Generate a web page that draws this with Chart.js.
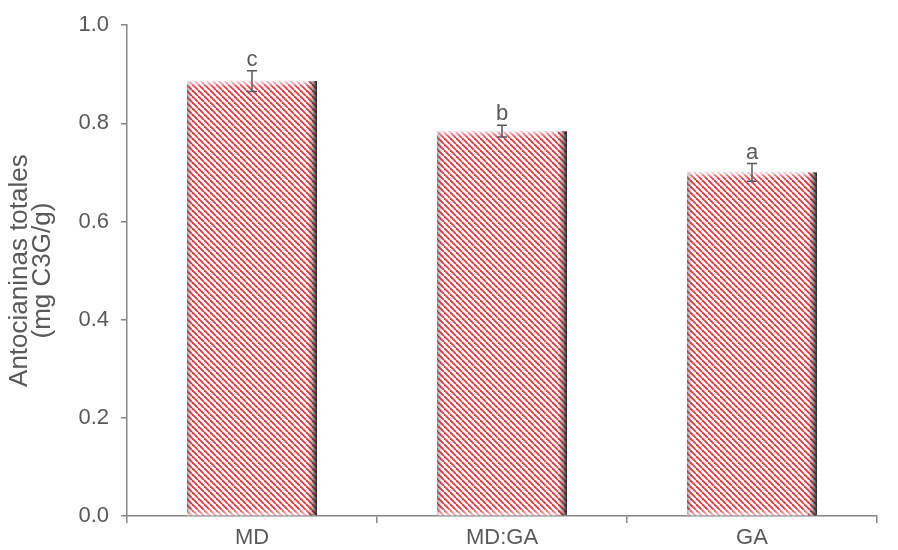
<!DOCTYPE html>
<html>
<head>
<meta charset="utf-8">
<script src="https://cdn.jsdelivr.net/npm/chart.js@4"></script>
<style>
  html, body { margin: 0; padding: 0; background: #fff; }
  #wrap { width: 898px; height: 550px; }
</style>
</head>
<body>
<div id="wrap"><canvas id="chart" width="898" height="550"></canvas></div>
<script>
// data
const categories = ['MD', 'MD:GA', 'GA'];
const values = [0.886, 0.784, 0.700];
const errors = [0.021, 0.012, 0.018];
const letters = ['c', 'b', 'a'];
const yTicks = [0, 0.2, 0.4, 0.6, 0.8, 1.0];

const textColor = '#595959';
const axisColor = '#868686';
const fontFamily = '"Liberation Sans", Arial, sans-serif';

// diagonal red stripe pattern
function makePattern(ctx) {
    const c = document.createElement('canvas');
    c.width = 6; c.height = 6;
    const p = c.getContext('2d');
    p.fillStyle = '#ffffff';
    p.fillRect(0, 0, 6, 6);
    p.strokeStyle = '#e6333c';
    p.lineWidth = 1.8;
    [-6, 0, 6].forEach(function (k) {
        p.beginPath();
        p.moveTo(k, 0);
        p.lineTo(k + 6, 6);
        p.stroke();
    });
    return ctx.createPattern(c, 'repeat');
}

// bevel/shadow on bars, error bars and letters
const decorPlugin = {
    id: 'decor',
    afterDatasetsDraw(chart) {
        const ctx = chart.ctx;
        const yScale = chart.scales.y;
        const meta = chart.getDatasetMeta(0);
        meta.data.forEach(function (bar, i) {
            const left = bar.x - bar.width / 2;
            const right = bar.x + bar.width / 2;
            const top = bar.y;
            const bottom = bar.base;
            ctx.save();
            // right shadow
            let g = ctx.createLinearGradient(right - 9, 0, right, 0);
            g.addColorStop(0, 'rgba(30,30,30,0)');
            g.addColorStop(0.6, 'rgba(30,30,30,0.45)');
            g.addColorStop(1, 'rgba(30,30,30,0.95)');
            ctx.fillStyle = g;
            ctx.fillRect(right - 9, top, 9, bottom - top);
            // left edge
            g = ctx.createLinearGradient(left, 0, left + 6, 0);
            g.addColorStop(0, 'rgba(90,90,90,0.55)');
            g.addColorStop(1, 'rgba(90,90,90,0)');
            ctx.fillStyle = g;
            ctx.fillRect(left, top, 6, bottom - top);
            // top edge
            g = ctx.createLinearGradient(0, top, 0, top + 6);
            g.addColorStop(0, 'rgba(255,255,255,0.75)');
            g.addColorStop(1, 'rgba(255,255,255,0)');
            ctx.fillStyle = g;
            ctx.fillRect(left, top, bar.width - 9, 6);
            // bottom edge
            g = ctx.createLinearGradient(0, bottom - 7, 0, bottom);
            g.addColorStop(0, 'rgba(255,255,255,0)');
            g.addColorStop(1, 'rgba(255,255,255,0.65)');
            ctx.fillStyle = g;
            ctx.fillRect(left, bottom - 7, bar.width - 9, 7);
            ctx.restore();

            // error bar
            const yHi = yScale.getPixelForValue(values[i] + errors[i]);
            const yLo = yScale.getPixelForValue(values[i] - errors[i]);
            ctx.save();
            ctx.strokeStyle = textColor;
            ctx.lineWidth = 1.5;
            ctx.beginPath();
            ctx.moveTo(bar.x, yHi); ctx.lineTo(bar.x, yLo);
            ctx.moveTo(bar.x - 5, yHi); ctx.lineTo(bar.x + 5, yHi);
            ctx.moveTo(bar.x - 5, yLo); ctx.lineTo(bar.x + 5, yLo);
            ctx.stroke();
            // significance letter
            ctx.fillStyle = textColor;
            ctx.font = '22px ' + fontFamily;
            ctx.textAlign = 'center';
            ctx.textBaseline = 'alphabetic';
            ctx.fillText(letters[i], bar.x, yHi - 5);
            ctx.restore();
        });
    }
};

document.addEventListener('DOMContentLoaded', function () {
    const ctx = document.getElementById('chart').getContext('2d');

    new Chart(ctx, {
        type: 'bar',
        data: {
            labels: categories,
            datasets: [{
                data: values,
                backgroundColor: makePattern(ctx),
                borderWidth: 0,
                categoryPercentage: 1.0,
                barPercentage: 0.52,
            }]
        },
        options: {
            responsive: false,
            animation: false,
            layout: { padding: { top: 22, right: 21, left: 0, bottom: 0 } },
            plugins: {
                legend: { display: false },
                tooltip: { enabled: false },
            },
            scales: {
                x: {
                    offset: true,
                    grid: {
                        offset: true,
                        drawOnChartArea: false,
                        drawTicks: true,
                        tickLength: 7,
                        color: axisColor,
                        lineWidth: 1.5,
                    },
                    border: { color: axisColor, width: 1.5 },
                    ticks: {
                        color: textColor,
                        font: { family: fontFamily, size: 22 },
                        padding: 2,
                    },
                    afterFit(scale) { scale.height = 34; },
                },
                y: {
                    min: 0,
                    max: 1,
                    afterBuildTicks(scale) {
                        scale.ticks = yTicks.map(function (v) { return { value: v }; });
                    },
                    grid: {
                        drawOnChartArea: false,
                        drawTicks: true,
                        tickLength: 6,
                        color: axisColor,
                        lineWidth: 1.5,
                    },
                    border: { color: axisColor, width: 1.5 },
                    ticks: {
                        color: textColor,
                        font: { family: fontFamily, size: 22 },
                        padding: 12,
                        callback: function (v) { return Number(v).toFixed(1); },
                    },
                    title: {
                        display: true,
                        text: ['Antocianinas totales', '(mg C3G/g)'],
                        color: textColor,
                        font: { family: fontFamily, size: 26, lineHeight: 0.9 },
                        padding: { top: 8, bottom: 8 },
                    },
                    afterFit(scale) { scale.width = 127; },
                }
            }
        },
        plugins: [decorPlugin]
    });
});
</script>
</body>
</html>
